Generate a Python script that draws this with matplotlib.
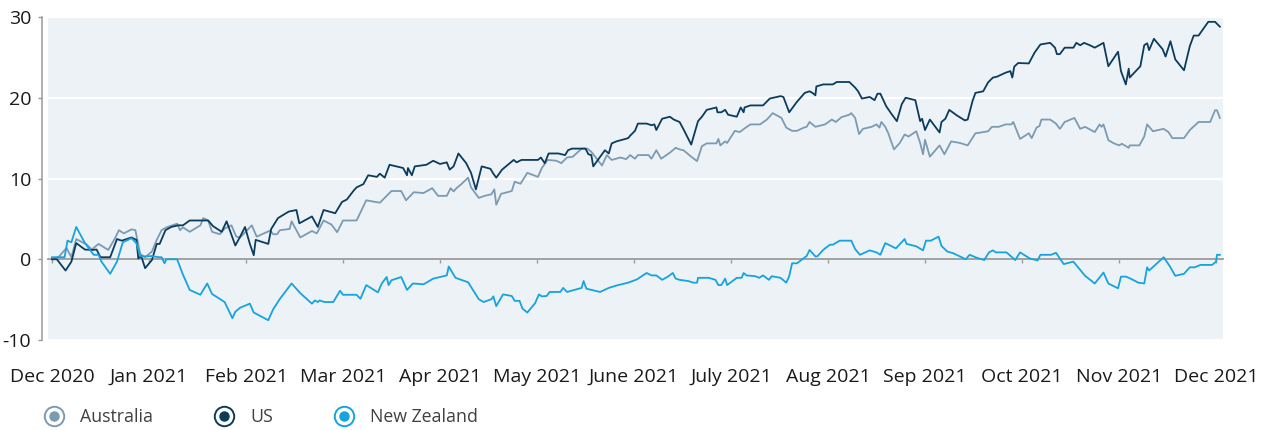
import matplotlib
matplotlib.use("Agg")
import matplotlib.pyplot as plt
from matplotlib.lines import Line2D
from matplotlib.legend_handler import HandlerTuple

plt.rcParams['font.family'] = ['Open Sans', 'DejaVu Sans']
plt.rcParams['axes.unicode_minus'] = False

# x is in months from Dec 2020 (0) to Dec 2021 (12), y is % change
month_labels = ["Dec 2020", "Jan 2021", "Feb 2021", "Mar 2021", "Apr 2021", "May 2021",
                "June 2021", "July 2021", "Aug 2021", "Sep 2021", "Oct 2021", "Nov 2021",
                "Dec 2021"]

au_x = [0.00, 0.07, 0.15, 0.20, 0.25, 0.36, 0.41, 0.48, 0.58, 0.65, 0.69, 0.74, 0.82, 0.86, 0.91, 0.96, 1.03, 1.08, 1.13, 1.18, 1.29, 1.32, 1.35, 1.42, 1.53, 1.56, 1.61, 1.65, 1.73, 1.78, 1.85, 1.90,
        1.94, 2.06, 2.11, 2.25, 2.28, 2.32, 2.35, 2.45, 2.47, 2.56, 2.68, 2.73, 2.80, 2.88, 2.94, 3.00, 3.14, 3.24, 3.38, 3.50, 3.60, 3.65, 3.73, 3.83, 3.92,
        3.98, 4.07, 4.11, 4.14, 4.17, 4.22, 4.29, 4.32, 4.40, 4.46, 4.53, 4.56, 4.58, 4.63, 4.74, 4.77, 4.83, 4.90, 5.01, 5.05, 5.11, 5.20, 5.25, 5.31, 5.37, 5.46, 5.52, 5.56, 5.60, 5.67, 5.72, 5.77, 5.86, 5.92,
        5.96, 6.01, 6.04, 6.15, 6.18, 6.23, 6.28, 6.37, 6.43, 6.47, 6.51, 6.59, 6.65, 6.70, 6.75, 6.85, 6.87, 6.89, 6.94, 6.96, 7.04, 7.09, 7.14, 7.20, 7.30, 7.37, 7.43, 7.52, 7.57, 7.63, 7.68, 7.75, 7.78, 7.81, 7.87,
        7.97, 8.04, 8.08, 8.14, 8.22, 8.24, 8.28, 8.32, 8.36, 8.45, 8.50, 8.53, 8.55, 8.59, 8.62, 8.68, 8.74, 8.79, 8.83, 8.91, 8.95, 8.98, 9.00, 9.05, 9.15, 9.20, 9.27, 9.36, 9.44, 9.52, 9.58, 9.65, 9.69, 9.76, 9.83, 9.89, 9.91, 9.98,
        10.07, 10.10, 10.15, 10.18, 10.20, 10.29, 10.35, 10.39, 10.44, 10.54, 10.60, 10.65, 10.75, 10.80, 10.82, 10.84, 10.89, 10.94, 11.00, 11.03, 11.10, 11.11, 11.21, 11.26, 11.29, 11.35, 11.46, 11.51, 11.55, 11.67, 11.73, 11.82, 11.94, 11.99, 12.01, 12.04]
au_y = [0, 0.3, 1.4, 0.25, 2.5, 1.8, 1.2, 1.9, 1.15, 2.6, 3.6, 3.2, 3.7, 3.6, 0.65, 0.25, 0.95, 2.4, 3.6, 3.95, 4.4, 3.6, 3.95, 3.4, 4.2, 5.1, 4.8, 3.4, 3.1, 3.8, 4.2, 2.8,
        2.7, 4.2, 2.8, 3.55, 3.1, 3.1, 3.6, 3.75, 4.7, 2.7, 3.5, 3.2, 4.8, 4.3, 3.35, 4.8, 4.8, 7.3, 7.0, 8.45, 8.45, 7.3, 8.3, 8.2, 8.8,
        7.85, 7.85, 8.8, 8.4, 8.8, 9.3, 10.1, 8.9, 7.6, 7.85, 8.05, 8.65, 6.75, 8.1, 8.45, 9.6, 9.35, 10.7, 10.2, 11.3, 12.3, 12.2, 11.9, 12.6, 12.7, 13.7, 13.7, 13.3, 12.7, 11.6, 12.9, 12.3, 12.6, 12.4,
        12.9, 12.45, 12.9, 12.9, 12.45, 13.5, 12.45, 13.2, 13.8, 13.6, 13.5, 12.7, 12.15, 14.0, 14.35, 14.35, 14.9, 14.1, 14.6, 14.4, 15.9, 15.75, 16.2, 16.7, 16.7, 17.3, 18.1, 17.5, 16.3, 15.9, 15.9, 16.3, 16.4, 17.0, 16.4,
        16.7, 17.3, 17.0, 17.6, 17.9, 18.1, 17.5, 15.5, 16.15, 16.4, 16.7, 16.3, 17.0, 16.4, 15.65, 13.6, 14.4, 15.45, 15.2, 15.85, 14.4, 13.0, 14.8, 12.7, 14.1, 13.0, 14.6, 14.4, 14.1, 15.6, 15.7, 15.85, 16.4, 16.4, 16.7, 16.7, 17.0, 14.9,
        15.6, 15.0, 16.3, 16.5, 17.3, 17.3, 16.8, 16.15, 17.0, 17.5, 16.15, 16.4, 15.75, 16.7, 16.4, 16.7, 14.75, 14.4, 14.1, 14.3, 13.8, 14.1, 14.1, 15.2, 16.7, 15.85, 16.15, 15.75, 15.0, 15.0, 16.0, 17.0, 17.0, 18.45, 18.45, 17.5]

us_x = [0.00, 0.05, 0.14, 0.20, 0.25, 0.34, 0.41, 0.46, 0.50, 0.60, 0.67, 0.72, 0.82, 0.87, 0.89, 0.92, 0.96, 1.03, 1.08, 1.11, 1.17, 1.23, 1.30, 1.35, 1.42, 1.61, 1.66, 1.75, 1.80, 1.89,
        1.94, 1.99, 2.04, 2.08, 2.10, 2.23, 2.26, 2.33, 2.44, 2.52, 2.55, 2.68, 2.74, 2.80, 2.92, 2.99, 3.04, 3.11, 3.14, 3.21, 3.26, 3.35, 3.38, 3.43, 3.48, 3.62, 3.66, 3.67, 3.71, 3.74, 3.86, 3.93,
        4.00, 4.07, 4.10, 4.14, 4.19, 4.27, 4.32, 4.37, 4.43, 4.52, 4.55, 4.58, 4.64, 4.70, 4.76, 4.79, 4.84, 5.01, 5.04, 5.08, 5.12, 5.22, 5.29, 5.32, 5.36, 5.50, 5.53, 5.56, 5.58, 5.70, 5.74, 5.77, 5.82, 5.94,
        5.96, 6.01, 6.04, 6.13, 6.18, 6.21, 6.23, 6.29, 6.37, 6.41, 6.47, 6.51, 6.59, 6.66, 6.70, 6.75, 6.85, 6.86, 6.90, 6.94, 6.97, 7.06, 7.10, 7.13, 7.14, 7.20, 7.33, 7.40, 7.51, 7.54, 7.60, 7.68, 7.76, 7.81, 7.84, 7.87, 7.88, 7.95,
        7.97, 8.05, 8.09, 8.22, 8.28, 8.31, 8.35, 8.43, 8.48, 8.51, 8.54, 8.60, 8.66, 8.71, 8.76, 8.80, 8.90, 8.95, 8.97, 9.00, 9.05, 9.15, 9.17, 9.21, 9.25, 9.33, 9.41, 9.44, 9.49, 9.52, 9.60, 9.65, 9.70, 9.74, 9.83, 9.88, 9.90, 9.92, 9.96,
        10.07, 10.13, 10.19, 10.29, 10.34, 10.36, 10.39, 10.44, 10.53, 10.56, 10.60, 10.64, 10.70, 10.75, 10.84, 10.89, 10.99, 11.02, 11.07, 11.10, 11.11, 11.22, 11.26, 11.29, 11.31, 11.36, 11.45, 11.48, 11.53, 11.58, 11.67, 11.73, 11.77, 11.82, 11.92, 11.99, 12.04]
us_y = [0, 0, -1.4, -0.3, 2.0, 1.2, 1.15, 1.2, 0.25, 0.25, 2.5, 2.3, 2.7, 2.4, 0.1, 0.4, -1.1, -0.1, 1.9, 1.9, 3.6, 4.0, 4.2, 4.2, 4.8, 4.8, 4.1, 3.4, 4.7, 1.7,
        2.8, 4.0, 1.9, 0.5, 2.4, 1.9, 3.75, 5.1, 5.9, 6.1, 4.45, 5.3, 4.0, 6.1, 5.7, 7.1, 7.4, 8.5, 8.9, 9.3, 10.4, 10.2, 10.6, 10.1, 11.7, 11.3, 10.4, 11.3, 10.4, 11.5, 11.7, 12.2,
        11.8, 12.0, 11.1, 11.5, 13.1, 11.9, 10.7, 8.65, 11.5, 11.2, 10.6, 10.1, 11.1, 11.7, 12.3, 12.0, 12.3, 12.3, 12.6, 11.9, 13.1, 13.1, 12.9, 13.5, 13.7, 13.7, 13.0, 12.9, 11.5, 13.5, 13.1, 14.35, 14.6, 15.0,
        15.3, 15.9, 16.8, 16.8, 16.6, 16.7, 16.0, 17.4, 17.65, 17.3, 17.0, 16.1, 14.2, 17.1, 17.65, 18.5, 18.8, 18.2, 18.2, 18.5, 17.9, 17.65, 18.8, 18.2, 18.8, 19.05, 19.05, 19.9, 20.2, 20.1, 18.2, 19.5, 20.6, 20.8, 20.6, 20.3, 21.4, 21.65,
        21.65, 21.65, 21.95, 21.95, 21.25, 20.8, 19.9, 20.1, 19.7, 20.5, 20.5, 18.95, 17.9, 17.1, 19.2, 20.0, 19.7, 17.1, 17.4, 16.0, 17.3, 15.7, 17.0, 17.4, 18.5, 17.8, 17.2, 17.3, 19.6, 20.6, 20.8, 21.9, 22.5, 22.6, 23.1, 23.3, 22.5, 23.85, 24.3,
        24.25, 25.6, 26.6, 26.8, 26.2, 25.4, 25.4, 26.2, 26.2, 26.8, 26.5, 26.8, 26.5, 26.2, 26.8, 23.9, 25.7, 23.3, 21.65, 23.6, 22.5, 23.9, 26.5, 26.75, 25.9, 27.3, 26.0, 25.1, 27.0, 24.75, 23.4, 26.4, 27.7, 27.7, 29.4, 29.4, 28.8]

nz_x = [0.00, 0.13, 0.16, 0.20, 0.25, 0.34, 0.43, 0.48, 0.51, 0.60, 0.67, 0.73, 0.82, 0.87, 0.91, 0.96, 1.03, 1.10, 1.13, 1.16, 1.18, 1.29, 1.35, 1.42, 1.53, 1.60, 1.65, 1.78, 1.86, 1.89,
        1.94, 2.04, 2.08, 2.23, 2.28, 2.35, 2.47, 2.56, 2.68, 2.71, 2.74, 2.76, 2.81, 2.90, 2.97, 3.00, 3.14, 3.18, 3.24, 3.36, 3.40, 3.45, 3.47, 3.50, 3.60, 3.66, 3.72, 3.83, 3.86, 3.93,
        4.07, 4.09, 4.16, 4.29, 4.40, 4.45, 4.53, 4.55, 4.58, 4.65, 4.74, 4.77, 4.82, 4.85, 4.90, 4.98, 5.02, 5.05, 5.10, 5.13, 5.24, 5.27, 5.31, 5.46, 5.48, 5.51, 5.65, 5.74, 5.82, 5.94,
        6.03, 6.13, 6.18, 6.23, 6.29, 6.35, 6.40, 6.43, 6.47, 6.56, 6.61, 6.65, 6.66, 6.77, 6.84, 6.87, 6.90, 6.94, 6.96, 7.06, 7.11, 7.13, 7.16, 7.25, 7.29, 7.33, 7.39, 7.42, 7.51, 7.57, 7.60, 7.63, 7.68, 7.78, 7.81, 7.87, 7.89, 7.95,
        7.97, 8.02, 8.05, 8.12, 8.24, 8.28, 8.33, 8.43, 8.50, 8.54, 8.59, 8.70, 8.79, 8.81, 8.91, 8.98, 9.01, 9.06, 9.14, 9.17, 9.23, 9.29, 9.42, 9.46, 9.53, 9.61, 9.66, 9.70, 9.73, 9.84, 9.93, 9.98,
        10.08, 10.16, 10.19, 10.30, 10.35, 10.43, 10.53, 10.65, 10.75, 10.84, 10.89, 10.99, 11.02, 11.07, 11.11, 11.20, 11.26, 11.29, 11.31, 11.46, 11.52, 11.58, 11.67, 11.73, 11.78, 11.84, 11.96, 12.00, 12.01, 12.04]
nz_y = [0.25, 0.25, 2.3, 2.1, 4.0, 2.0, 0.55, 0.55, -0.3, -1.8, -0.3, 2.1, 2.6, 2.0, 0.4, 0.35, 0.4, 0.25, 0.25, -0.5, 0, 0, -1.9, -3.8, -4.4, -3.0, -4.3, -5.3, -7.3, -6.5,
        -6.0, -5.5, -6.6, -7.55, -6.2, -4.9, -3.0, -4.2, -5.5, -5.1, -5.3, -5.1, -5.3, -5.3, -3.9, -4.4, -4.4, -4.9, -3.2, -4.1, -3.0, -2.2, -3.2, -2.6, -2.2, -3.8, -3.0, -3.1, -2.9, -2.4,
        -2.0, -0.9, -2.3, -2.85, -4.95, -5.3, -4.95, -4.6, -5.8, -4.35, -4.55, -5.15, -5.15, -6.1, -6.6, -5.45, -4.35, -4.6, -4.55, -4.05, -4.05, -3.55, -4.05, -3.55, -2.7, -3.65, -4.05, -3.55, -3.25, -2.9,
        -2.5, -1.7, -2.0, -2.0, -2.55, -2.15, -1.7, -2.4, -2.55, -2.7, -2.9, -2.9, -2.3, -2.3, -2.55, -3.2, -3.2, -2.4, -3.2, -2.3, -2.3, -1.7, -2.0, -2.1, -2.3, -2.0, -2.55, -2.1, -2.3, -2.9, -2.1, -0.5, -0.5, 0.4, 1.15, 0.35, 0.35, 1.15,
        1.35, 1.8, 1.8, 2.3, 2.3, 1.25, 0.55, 1.1, 0.85, 0.55, 2.0, 1.35, 2.5, 1.9, 1.6, 1.1, 2.3, 2.3, 2.8, 1.65, 0.95, 0.75, 0, 0.55, 0.2, -0.1, 0.85, 1.1, 0.85, 0.85, -0.1, 0.85,
        0.1, -0.15, 0.55, 0.55, 0.8, -0.6, -0.3, -2.05, -3.0, -1.65, -3.0, -3.6, -2.15, -2.15, -2.35, -2.9, -3.0, -1.0, -1.4, 0.25, -0.8, -2.05, -1.8, -1.0, -1.0, -0.7, -0.7, -0.3, 0.55, 0.55]

names = ["Australia", "US", "New Zealand"]
colors = ["#7b9bb2", "#0b3c5d", "#16a3de"]

fig = plt.figure(figsize=(12.66, 4.30), dpi=100)
ax = fig.add_axes([48 / 1266, 1 - 340 / 430, 1175 / 1266, 323 / 430])
ax.set_facecolor("#edf2f7")

for xs, ys, c in zip([au_x, us_x, nz_x], [au_y, us_y, nz_y], colors):
    ax.plot(xs, ys, color=c, lw=1.3, zorder=3)

ax.set_xlim(-0.041, 12.072)
ax.set_ylim(-10, 30)
ax.set_yticks([-10, 0, 10, 20, 30])
ax.set_xticks(range(len(month_labels)))
ax.set_xticklabels(month_labels)
ax.yaxis.grid(True, color="white", lw=1.6)
ax.set_axisbelow(True)

for s in ["top", "right"]:
    ax.spines[s].set_visible(False)
ax.spines["left"].set_position(("outward", 4))
ax.spines["left"].set_color("#9a9a9a")
ax.spines["left"].set_linewidth(1.1)
ax.spines["bottom"].set_position(("data", 0))
ax.spines["bottom"].set_color("#9a9a9a")
ax.spines["bottom"].set_linewidth(1.3)
ax.spines["bottom"].set_zorder(2.5)

ax.tick_params(axis="y", length=3, width=1, color="#9a9a9a", labelsize=14,
               labelcolor="#1a1a1a", pad=5)
ax.tick_params(axis="x", length=3, width=1, color="#9a9a9a", labelsize=14,
               labelcolor="#1a1a1a", pad=75)

# legend markers: coloured ring with a white gap and a filled dot inside
handles = []
for c in colors:
    ring = Line2D([], [], ls="", marker="o", ms=14, mfc="white", mec=c, mew=1.4)
    dot = Line2D([], [], ls="", marker="o", ms=6.5, mfc=c, mec=c)
    handles.append((ring, dot))

fig.legend(handles, names, handler_map={tuple: HandlerTuple(ndivide=1, pad=0)},
           loc="center left", bbox_to_anchor=(42 / 1266, 1 - 417 / 430), ncol=3,
           frameon=False, fontsize=12.8, handlelength=1.4, handletextpad=0.75,
           columnspacing=3.3, borderpad=0, borderaxespad=0, labelcolor="#404040")

fig.savefig("out.png", dpi=100)
